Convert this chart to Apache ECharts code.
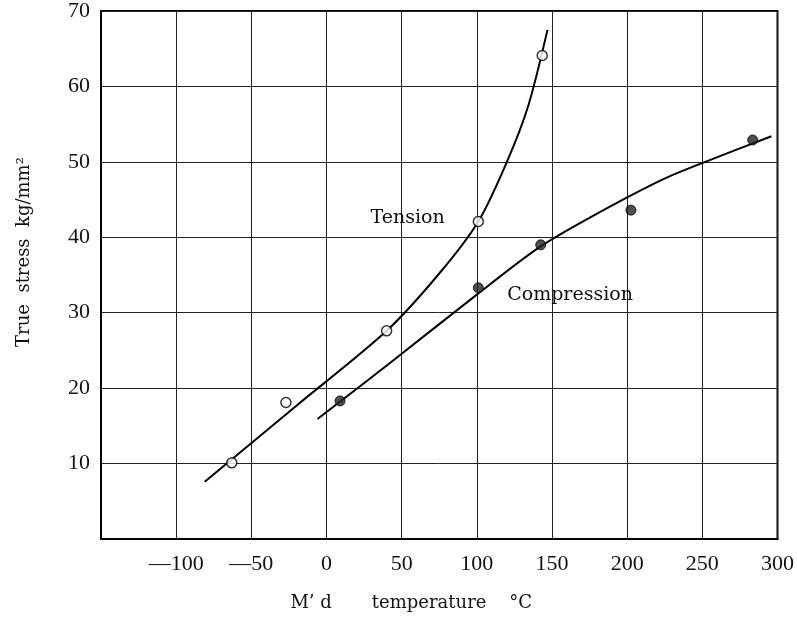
<!DOCTYPE html>
<html>
<head>
<meta charset="utf-8">
<script src="https://cdn.jsdelivr.net/npm/echarts@6/dist/echarts.min.js"></script>
<style>
  html, body { margin: 0; padding: 0; background: #fff; }
  #chart { width: 797px; height: 617px; }
</style>
</head>
<body>
<div id="chart"></div>
<script>
// measured points (temperature degC, true stress kg/mm2)
const tensionPoints = [[-63, 10.1], [-27, 18.1], [40, 27.6], [101, 42.1], [143.5, 64.1]];
const compressionPoints = [[9, 18.3], [101, 33.3], [142.5, 39.0], [202.5, 43.6], [283.5, 52.9]];

// fitted curves as drawn on the figure
const tensionCurve = [
  [-81, 7.6], [-18, 18.0], [40, 27.6], [75, 35.2],
  [101, 42.1], [120, 50.0], [134, 57.3], [147, 67.5]
];
const compressionCurve = [
  [-6, 15.9], [42, 23.3], [100, 32.4], [141, 38.6],
  [177, 42.8], [223, 47.6], [252, 50.0], [296, 53.4]
];

const xTicks = { min: -150, max: 300, step: 50 };
const yTicks = { min: 0, max: 70, step: 10 };

const serif = "'Liberation Serif', 'DejaVu Serif', serif";
const wideSerif = "'DejaVu Serif', 'Liberation Serif', serif";

const chart = echarts.init(document.getElementById("chart"));

function curveLabel(text, coord) {
  return {
    symbol: "circle",
    symbolSize: 0,
    data: [{ coord: coord }],
    label: {
      show: true,
      formatter: text,
      fontFamily: wideSerif,
      fontSize: 19,
      color: "#111",
      position: "inside",
    },
  };
}

const option = {
  backgroundColor: "#fff",
  animation: false,
  grid: {
    left: 101,
    right: 17,
    top: 11,
    bottom: 78,
    show: true,
    borderColor: "#000",
    borderWidth: 2,
  },
  xAxis: {
    type: "value",
    min: xTicks.min,
    max: xTicks.max,
    interval: xTicks.step,
    name: "M\u2019 d       temperature    \u00b0C",
    nameLocation: "middle",
    nameGap: 55,
    nameTextStyle: {
      fontFamily: wideSerif,
      fontSize: 18,
      color: "#111",
      padding: [0, 56, 0, 0],
    },
    axisLine: { show: true, onZero: false, lineStyle: { color: "#000", width: 2 } },
    axisTick: { show: false },
    axisLabel: {
      margin: 14,
      fontFamily: serif,
      fontSize: 22,
      color: "#111",
      formatter: (v) => (v === xTicks.min ? "" : v < 0 ? "\u2014" + -v : String(v)),
    },
    splitLine: { show: true, lineStyle: { color: "#222", width: 1 } },
  },
  yAxis: {
    type: "value",
    min: yTicks.min,
    max: yTicks.max,
    interval: yTicks.step,
    name: "True  stress  kg/mm\u00b2",
    nameLocation: "middle",
    nameGap: 68,
    nameTextStyle: {
      fontFamily: wideSerif,
      fontSize: 18,
      color: "#111",
      padding: [0, 0, 0, 46],
    },
    axisLine: { show: true, onZero: false, lineStyle: { color: "#000", width: 2 } },
    axisTick: { show: false },
    axisLabel: {
      margin: 11,
      fontFamily: serif,
      fontSize: 22,
      color: "#111",
      formatter: (v) => (v === yTicks.min ? "" : String(v)),
    },
    splitLine: { show: true, lineStyle: { color: "#222", width: 1 } },
  },
  series: [
    {
      name: "Tension curve",
      type: "line",
      data: tensionCurve,
      smooth: 0.3,
      showSymbol: false,
      lineStyle: { color: "#000", width: 2 },
      z: 3,
      markPoint: curveLabel("Tension", [54, 42.6]),
    },
    {
      name: "Compression curve",
      type: "line",
      data: compressionCurve,
      smooth: 0.3,
      showSymbol: false,
      lineStyle: { color: "#000", width: 2 },
      z: 3,
      markPoint: curveLabel("Compression", [162, 32.4]),
    },
    {
      name: "Tension",
      type: "scatter",
      data: tensionPoints,
      symbol: "circle",
      symbolSize: 10,
      itemStyle: { color: "#fff", borderColor: "#000", borderWidth: 1.5 },
      z: 5,
    },
    {
      name: "Compression",
      type: "scatter",
      data: compressionPoints,
      symbol: "circle",
      symbolSize: 10,
      itemStyle: { color: "#222", borderColor: "#000", borderWidth: 1 },
      z: 5,
    },
  ],
};

chart.setOption(option);

window.addEventListener("resize", () => chart.resize());
</script>
</body>
</html>
